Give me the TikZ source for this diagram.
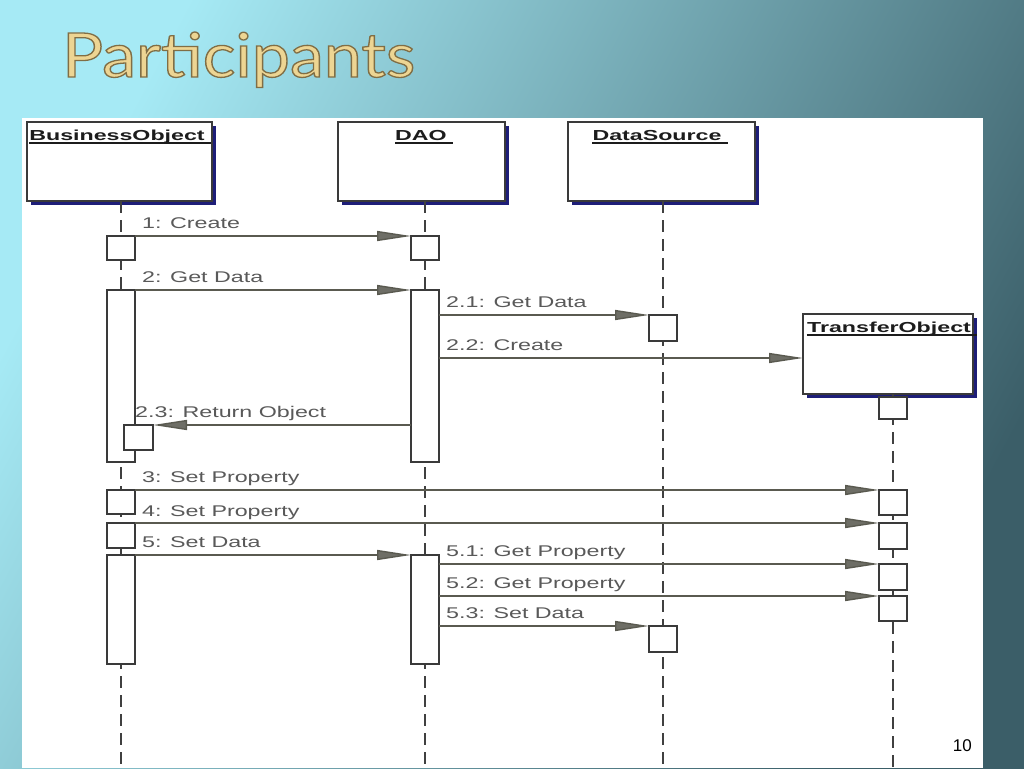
\documentclass[tikz,border=0pt]{standalone}
\usepackage{fontspec}
\setmainfont{Liberation Sans}
\newfontfamily\titlefont{Lato}
\usetikzlibrary{arrows.meta,shadows,calc}
\definecolor{bgA}{HTML}{A6EAF5}
\definecolor{bgM}{HTML}{6BAAB8}
\definecolor{bgB}{HTML}{3B5E68}
\definecolor{gold}{HTML}{EDD593}
\definecolor{boxc}{HTML}{3A3A3A}
\definecolor{lifec}{HTML}{404040}
\definecolor{msgc}{HTML}{5A5A50}
\definecolor{tipc}{HTML}{6E6E66}
\definecolor{lblc}{HTML}{595959}
\definecolor{headtxt}{HTML}{1C1C1C}
\definecolor{navy}{HTML}{1E1E78}
\newcommand\wide[1]{\scalebox{1.5}[1]{#1}}
\newcommand\hwide[1]{\scalebox{1.6}[1]{#1}}
\newcommand\outlined[1]{\special{pdf:literal direct 2 Tr 1.3 w 0.50 0.43 0.27 RG}#1\special{pdf:literal direct 0 Tr}}
\begin{document}
\begin{tikzpicture}[x=1pt,y=-1pt,
  lifehead/.style={draw=boxc, line width=1.5pt, fill=white, inner sep=0, outer sep=0,
    drop shadow={shadow xshift=3.5pt, shadow yshift=-3.5pt, fill=navy, opacity=1}},
  headlbl/.style={anchor=base, inner sep=0, text=headtxt, font=\bfseries\fontsize{14.5}{15}\selectfont},
  act/.style={draw=boxc, line width=1.6pt, fill=white, minimum width=28pt, inner sep=0, outer sep=0},
  life/.style={draw=lifec, line width=2pt, dash pattern=on 12pt off 7pt},
  msg/.style={draw=msgc, line width=1.4pt, -{Triangle[length=34pt,width=10pt,fill=tipc]}},
  lbl/.style={anchor=base west, inner sep=0, text=lblc, font=\fontsize{15.5}{16}\selectfont}
]
\useasboundingbox (0,0) rectangle (1024,768);
% slide background
\shade[top color=bgA, middle color=bgM, bottom color=bgB, shading angle=62] (0,0) rectangle (1024,768);
% title
\node[anchor=base west, inner sep=0, text=gold] (title) at (62,77) {\resizebox{353pt}{45pt}{\titlefont\fontsize{62}{62}\selectfont\outlined{Participants}}};
% white panel
\fill[white] (22,118) rectangle (983,768);

% lifeline heads
\node[lifehead, minimum width=185pt, minimum height=79pt] (bo) at (119.5,161.5) {};
\node[lifehead, minimum width=167pt, minimum height=79pt] (dao) at (421.5,161.5) {};
\node[lifehead, minimum width=187pt, minimum height=79pt] (ds) at (661.5,161.5) {};
\node[lifehead, minimum width=170pt, minimum height=80pt] (to) at (888,354) {};

\node[headlbl] (bot) at (117,140) {\hwide{BusinessObject}};
\node[headlbl] (daot) at (421,140) {\hwide{DAO}};
\node[headlbl] (dst) at (657,140) {\hwide{DataSource}};
\node[headlbl] (tot) at (889,332) {\hwide{TransferObject}};
\foreach \t in {bot,daot,dst,tot}
  \draw[headtxt, line width=1.3pt] ($(\t.base west)+(0,3)$) -- ($(\t.base east)+(6,3)$);

% lifelines
\coordinate (boEnd) at (121,768);
\coordinate (daoEnd) at (425,768);
\coordinate (dsEnd) at (663,768);
\coordinate (toEnd) at (893,768);
\draw[life] (boEnd |- bo.south) -- (boEnd);
\draw[life] (daoEnd |- dao.south) -- (daoEnd);
\draw[life] (dsEnd |- ds.south) -- (dsEnd);
\draw[life] (toEnd |- to.south) -- (toEnd);

% activation boxes: BusinessObject
\node[act, minimum height=24pt] (a1) at (121,248) {};
\node[act, minimum height=172pt] (a2) at (121,376) {};
\node[act, minimum width=29pt, minimum height=25pt] (ar) at (138.5,437.5) {};
\node[act, minimum height=24pt] (a3) at (121,502) {};
\node[act, minimum height=25pt] (a4) at (121,535.5) {};
\node[act, minimum height=109pt] (a5) at (121,609.5) {};
% DAO
\node[act, minimum height=24pt] (d1) at (425,248) {};
\node[act, minimum height=172pt] (d2) at (425,376) {};
\node[act, minimum height=109pt] (d5) at (425,609.5) {};
% DataSource
\node[act, minimum height=26pt] (s1) at (663,328) {};
\node[act, minimum height=26pt] (s2) at (663,639) {};
% TransferObject
\node[act, minimum height=22pt] (t0) at (893,408) {};
\node[act, minimum height=25pt] (t3) at (893,502.5) {};
\node[act, minimum height=26pt] (t4) at (893,536) {};
\node[act, minimum height=26pt] (t51) at (893,577) {};
\node[act, minimum height=25pt] (t52) at (893,608.5) {};

% messages
\draw[msg] (a1.north east) -- (d1.north west);
\draw[msg] (a2.north east) -- (d2.north west);
\draw[msg] (d2.east |- s1.north) -- (s1.north west);
\coordinate (m22) at ($(to.west)+(0,4)$);
\draw[msg] (d2.east |- m22) -- (m22);
\draw[msg] (d2.west |- ar.north) -- (ar.north east);
\draw[msg] (a3.north east) -- (t3.north west);
\draw[msg] (a4.north east) -- (t4.north west);
\draw[msg] (a5.north east) -- (d5.north west);
\draw[msg] (d5.east |- t51.north) -- (t51.north west);
\draw[msg] (d5.east |- t52.north) -- (t52.north west);
\draw[msg] (d5.east |- s2.north) -- (s2.north west);

% message labels
\node[lbl] (l1) at (142,228.5) {\wide{1: Create}};
\node[lbl] (l2) at (142,282.5) {\wide{2: Get Data}};
\node[lbl] (l21) at (446,307.5) {\wide{2.1: Get Data}};
\node[lbl] (l22) at (446,350.5) {\wide{2.2: Create}};
\node[lbl] (l23) at (135,417.5) {\wide{2.3: Return Object}};
\node[lbl] (l3) at (142,482.5) {\wide{3: Set Property}};
\node[lbl] (l4) at (142,516.5) {\wide{4: Set Property}};
\node[lbl] (l5) at (142,547.5) {\wide{5: Set Data}};
\node[lbl] (l51) at (446,556.5) {\wide{5.1: Get Property}};
\node[lbl] (l52) at (446,588.5) {\wide{5.2: Get Property}};
\node[lbl] (l53) at (446,618.5) {\wide{5.3: Set Data}};

% page number
\node[anchor=base east, inner sep=0, font=\fontsize{17}{17}\selectfont] (pg) at (972,751) {10};
\end{tikzpicture}
\end{document}
